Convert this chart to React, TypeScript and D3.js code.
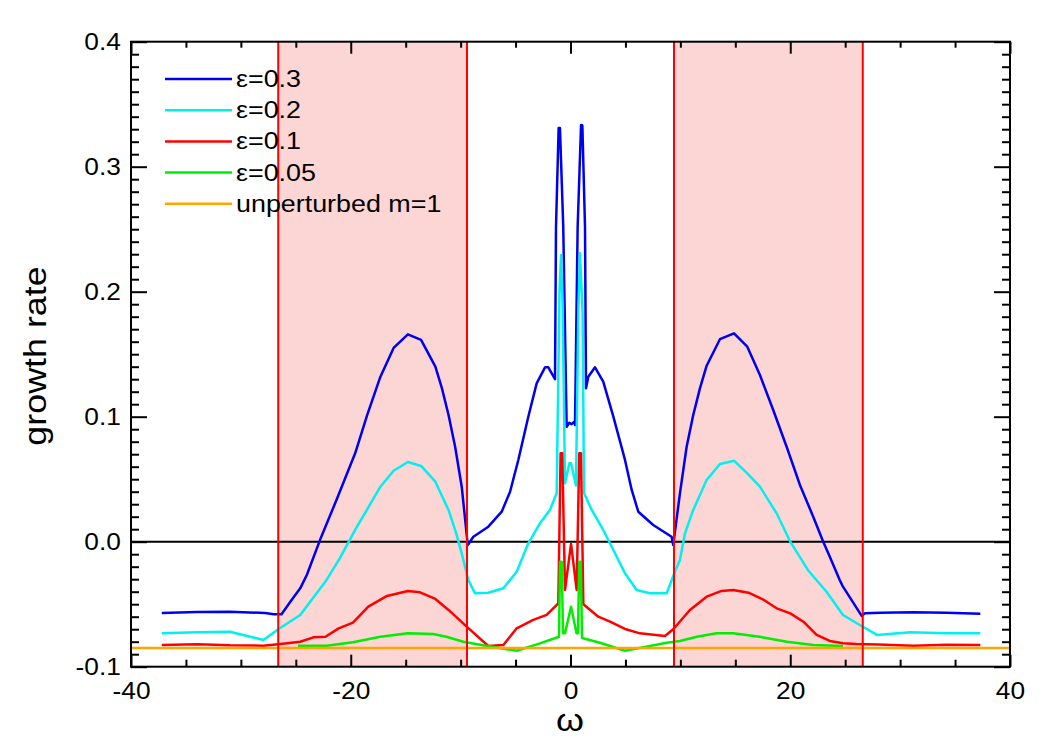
import { useEffect, useRef } from "react";
import * as d3 from "d3";

type Pt = [number, number];

// growth rate vs. omega for each perturbation amplitude
const eps03: Pt[] = [
  [-37.2, -0.057], [-34.0, -0.0563], [-31.0, -0.056], [-27.8, -0.057], [-27.0, -0.058],
  [-26.3, -0.0581], [-25.5, -0.048], [-24.6, -0.0373], [-24.0, -0.0266], [-22.8, 0.0013],
  [-21.3, 0.0334], [-19.6, 0.0707], [-18.5, 0.1014], [-17.3, 0.132], [-16.1, 0.155],
  [-14.8, 0.1659], [-13.6, 0.1614], [-12.3, 0.14], [-11.7, 0.1227], [-11.1, 0.1014],
  [-10.5, 0.076], [-9.9, 0.044], [-9.35, -0.0026], [-8.84, 0.004], [-7.48, 0.012],
  [-6.26, 0.024], [-5.5, 0.04], [-4.75, 0.0654], [-3.84, 0.1], [-3.08, 0.1267],
  [-2.32, 0.1395], [-2.02, 0.1395], [-1.41, 0.13], [-1.32, 0.252], [-1.08, 0.331],
  [-0.96, 0.331], [-0.66, 0.252], [-0.35, 0.092], [-0.11, 0.0952], [0.1, 0.094],
  [0.35, 0.096], [0.41, 0.0934], [0.65, 0.252], [0.96, 0.3334], [1.08, 0.333],
  [1.32, 0.252], [1.41, 0.1227], [1.62, 0.132], [2.23, 0.1395], [2.98, 0.128],
  [3.9, 0.1], [4.96, 0.0654], [5.57, 0.0414], [6.17, 0.024], [7.53, 0.0134],
  [9.2, 0.004], [9.35, -0.0026], [9.96, 0.0387], [10.57, 0.076], [11.17, 0.1014],
  [11.78, 0.1227], [12.39, 0.1408], [13.6, 0.162], [14.88, 0.1667], [16.09, 0.156],
  [17.24, 0.1334], [18.45, 0.1054], [19.67, 0.076], [20.88, 0.0454], [22.09, 0.02],
  [23.0, 0.0], [23.6, -0.012], [24.5, -0.0306], [24.8, -0.036], [26.5, -0.0594],
  [26.8, -0.0573], [28.2, -0.0568], [31.2, -0.0565], [34.2, -0.0568], [37.3, -0.0576],
];

const eps02: Pt[] = [
  [-37.2, -0.0733], [-34.0, -0.0725], [-31.0, -0.072], [-27.95, -0.0786], [-26.6, -0.07],
  [-24.6, -0.0586], [-22.2, -0.0306], [-21.0, -0.0133], [-19.6, 0.0094], [-17.3, 0.044],
  [-16.1, 0.0568], [-14.8, 0.0638], [-13.6, 0.0606], [-12.3, 0.048], [-11.1, 0.0254],
  [-10.4, 0.0067], [-9.9, -0.0093], [-9.3, -0.0306], [-8.69, -0.0413], [-7.48, -0.0408],
  [-6.11, -0.0373], [-4.9, -0.024], [-3.84, -0.0013], [-2.78, 0.0147], [-1.87, 0.0254],
  [-1.26, 0.0387], [-1.0, 0.2], [-0.86, 0.2294], [-0.72, 0.19], [-0.5, 0.0467],
  [-0.1, 0.0627], [0.05, 0.0627], [0.5, 0.045], [0.71, 0.183], [0.86, 0.2307],
  [1.1, 0.183], [1.23, 0.039], [1.93, 0.0254], [2.98, 0.0094], [3.9, -0.0066],
  [4.96, -0.0253], [6.02, -0.0386], [7.23, -0.0413], [8.75, -0.0413], [9.5, -0.024],
  [9.96, -0.0146], [10.42, 0.0067], [11.17, 0.0254], [12.39, 0.0494], [13.6, 0.0622],
  [14.88, 0.0648], [16.09, 0.0547], [17.24, 0.044], [18.76, 0.0227], [20.0, 0.0],
  [21.6, -0.0226], [23.3, -0.04], [24.8, -0.0586], [26.6, -0.068], [27.9, -0.0746],
  [30.9, -0.0725], [34.2, -0.0733], [37.3, -0.0733],
];

const eps01: Pt[] = [
  [-37.2, -0.0826], [-34.0, -0.082], [-31.0, -0.0829], [-27.95, -0.0832], [-26.4, -0.0818],
  [-24.6, -0.08], [-23.4, -0.0765], [-22.3, -0.076], [-21.1, -0.0693], [-19.8, -0.0648],
  [-18.4, -0.052], [-16.7, -0.0434], [-14.8, -0.0394], [-13.7, -0.0405], [-12.3, -0.0458],
  [-11.1, -0.0546], [-9.45, -0.068], [-7.48, -0.0834], [-6.11, -0.0826], [-4.9, -0.0693],
  [-3.39, -0.0626], [-2.17, -0.0586], [-1.11, -0.0493], [-0.9, 0.0707], [-0.75, 0.0707],
  [-0.5, -0.0386], [0.05, -0.0018], [0.56, -0.0386], [0.8, 0.0707], [0.95, 0.0707],
  [1.17, -0.05], [2.53, -0.06], [3.6, -0.064], [4.96, -0.0698], [6.32, -0.0733],
  [8.6, -0.0754], [9.35, -0.07], [10.87, -0.0546], [12.39, -0.044], [13.76, -0.0394],
  [14.8, -0.0386], [16.2, -0.0408], [17.5, -0.0461], [18.76, -0.0533], [20.0, -0.0573],
  [21.2, -0.064], [22.4, -0.0746], [23.6, -0.0794], [24.8, -0.0813], [26.0, -0.0818],
  [28.0, -0.0822], [31.2, -0.0832], [34.2, -0.0824], [37.3, -0.0826],
];

const eps005: Pt[] = [
  [-24.8, -0.0832], [-22.2, -0.0832], [-19.8, -0.0805], [-17.3, -0.076], [-14.8, -0.0733],
  [-12.5, -0.0738], [-11.3, -0.076], [-9.75, -0.08], [-7.6, -0.0834], [-4.9, -0.0872],
  [-2.78, -0.0813], [-1.05, -0.076], [-0.95, -0.016], [-0.8, -0.016], [-0.68, -0.0733],
  [-0.5, -0.0733], [0.05, -0.052], [0.55, -0.0733], [0.68, -0.0733], [0.8, -0.016],
  [0.93, -0.016], [1.05, -0.077], [2.68, -0.0808], [4.96, -0.0872], [7.23, -0.0834],
  [8.75, -0.0808], [9.96, -0.0794], [11.5, -0.076], [13.3, -0.0733], [14.8, -0.0733],
  [17.2, -0.076], [19.7, -0.08], [22.1, -0.0826], [24.8, -0.0834],
];

const unperturbed: Pt[] = [[-40, -0.085], [40, -0.085]];

const seriesLabels = ["ε=0.3", "ε=0.2", "ε=0.1", "ε=0.05", "unperturbed m=1"];
const seriesColors = ["#0000f0", "#00f0f0", "#ff0000", "#00ee00", "#ffa500"];

// shaded omega intervals bounded by red lines
const bands: Pt[] = [[-26.6, -9.42], [9.42, 26.6]];

const xMajor = [-40, -20, 0, 20, 40];
const yMajor = [-0.1, 0, 0.1, 0.2, 0.3, 0.4];

const FONT = "'Liberation Sans', Arial, Helvetica, sans-serif";

export default function App() {
  const ref = useRef<SVGSVGElement>(null);

  useEffect(() => {
    const svg = d3.select(ref.current);
    svg.selectAll("*").remove();

    const left = 131, right = 1010, top = 41.7, bottom = 666.7;
    const x = d3.scaleLinear().domain([-40, 40]).range([left, right]);
    const y = d3.scaleLinear().domain([-0.1, 0.4]).range([bottom, top]);

    // shaded bands
    svg
      .append("g")
      .selectAll("rect")
      .data(bands)
      .join("rect")
      .attr("x", (d) => x(d[0]))
      .attr("width", (d) => x(d[1]) - x(d[0]))
      .attr("y", top)
      .attr("height", bottom - top)
      .attr("fill", "#fcd5d5");

    // zero line
    svg
      .append("line")
      .attr("x1", left)
      .attr("x2", right)
      .attr("y1", y(0))
      .attr("y2", y(0))
      .attr("stroke", "#000")
      .attr("stroke-width", 2);

    const line = d3
      .line<Pt>()
      .x((d) => x(d[0]))
      .y((d) => y(d[1]));

    const allSeries = [eps03, eps02, eps01, eps005, unperturbed];
    svg
      .append("g")
      .selectAll("path")
      .data(allSeries)
      .join("path")
      .attr("d", (d) => line(d) ?? "")
      .attr("fill", "none")
      .attr("stroke", (_, i) => seriesColors[i])
      .attr("stroke-width", 2.5)
      .attr("stroke-linejoin", "round");

    // band edges
    svg
      .append("g")
      .selectAll("line")
      .data(bands.flat())
      .join("line")
      .attr("x1", (d) => x(d))
      .attr("x2", (d) => x(d))
      .attr("y1", top)
      .attr("y2", bottom)
      .attr("stroke", "#ff0000")
      .attr("stroke-width", 2);

    // axes with inward ticks
    const xMinor = d3.range(-35, 40, 5).filter((v) => !xMajor.includes(v));
    const yMinor = d3.range(-10, 41).filter((v) => v % 10 !== 0).map((v) => v / 100);

    const styleAxis = (g: d3.Selection<SVGGElement, unknown, null, undefined>) => {
      g.select(".domain").remove();
      g.selectAll("line").attr("stroke", "#000").attr("stroke-width", 2);
      g.attr("font-family", FONT).attr("font-size", 23.5);
      g.selectAll("text").attr("fill", "#000");
    };

    const bottomG = svg.append("g").attr("transform", `translate(0,${bottom})`);
    bottomG
      .append("g")
      .call(d3.axisBottom(x).tickValues(xMajor).tickSizeInner(-12).tickSizeOuter(0).tickPadding(16).tickFormat((d) => String(d)))
      .call(styleAxis);
    bottomG
      .append("g")
      .call(d3.axisBottom(x).tickValues(xMinor).tickSizeInner(-7).tickSizeOuter(0).tickFormat(() => ""))
      .call(styleAxis);
    bottomG.selectAll("text").attr("transform", "scale(1.12,1)");

    const topG = svg.append("g").attr("transform", `translate(0,${top})`);
    topG
      .append("g")
      .call(d3.axisTop(x).tickValues(xMajor).tickSizeInner(-12).tickSizeOuter(0).tickFormat(() => ""))
      .call(styleAxis);
    topG
      .append("g")
      .call(d3.axisTop(x).tickValues(xMinor).tickSizeInner(-6).tickSizeOuter(0).tickFormat(() => ""))
      .call(styleAxis);

    const leftG = svg.append("g").attr("transform", `translate(${left},0)`);
    leftG
      .append("g")
      .call(d3.axisLeft(y).tickValues(yMajor).tickSizeInner(-16).tickSizeOuter(0).tickPadding(9).tickFormat((d) => (+d).toFixed(1)))
      .call(styleAxis);
    leftG
      .append("g")
      .call(d3.axisLeft(y).tickValues(yMinor).tickSizeInner(-8).tickSizeOuter(0).tickFormat(() => ""))
      .call(styleAxis);
    leftG.selectAll("text").attr("transform", "scale(1.12,1)");

    const rightG = svg.append("g").attr("transform", `translate(${right},0)`);
    rightG
      .append("g")
      .call(d3.axisRight(y).tickValues(yMajor).tickSizeInner(-16).tickSizeOuter(0).tickFormat(() => ""))
      .call(styleAxis);
    rightG
      .append("g")
      .call(d3.axisRight(y).tickValues(yMinor).tickSizeInner(-8).tickSizeOuter(0).tickFormat(() => ""))
      .call(styleAxis);

    // frame
    svg
      .append("rect")
      .attr("x", left)
      .attr("y", top)
      .attr("width", right - left)
      .attr("height", bottom - top)
      .attr("fill", "none")
      .attr("stroke", "#000")
      .attr("stroke-width", 2);

    // legend
    const legend = svg
      .append("g")
      .selectAll("g")
      .data(seriesLabels)
      .join("g")
      .attr("transform", (_, i) => `translate(165,${79 + i * 31.2})`);
    legend
      .append("line")
      .attr("x1", 0)
      .attr("x2", 67)
      .attr("stroke", (_, i) => seriesColors[i])
      .attr("stroke-width", 2.5);
    legend
      .append("text")
      .attr("transform", "translate(71,8) scale(1.12,1)")
      .attr("font-family", FONT)
      .attr("font-size", 24)
      .text((d) => d);

    // axis titles
    svg
      .append("text")
      .attr("transform", "translate(570,731) scale(1.12,1)")
      .attr("text-anchor", "middle")
      .attr("font-family", FONT)
      .attr("font-size", 32)
      .text("ω");

    svg
      .append("text")
      .attr("transform", "translate(46,356) rotate(-90) scale(1.12,1)")
      .attr("text-anchor", "middle")
      .attr("font-family", FONT)
      .attr("font-size", 32)
      .text("growth rate");
  }, []);

  return (
    <svg
      ref={ref}
      width={1050}
      height={750}
      style={{ position: "absolute", left: 0, top: 0, background: "#fff" }}
    />
  );
}
